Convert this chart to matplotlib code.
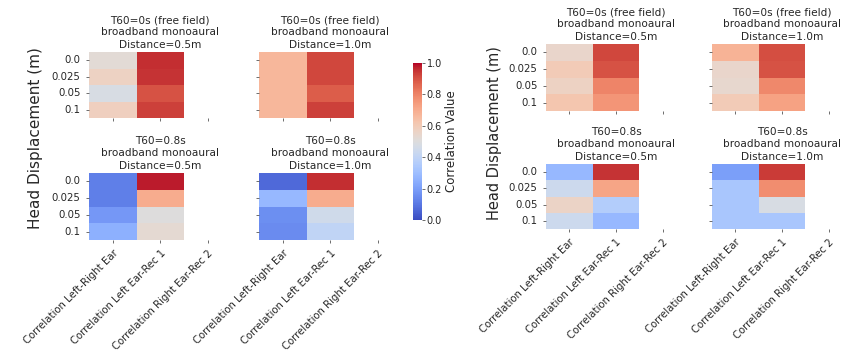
import numpy as np
import matplotlib
matplotlib.use('Agg')
import matplotlib.pyplot as plt
import seaborn as sns

displacements = ['0.0', '0.025', '0.05', '0.1']
metrics = ['Correlation Left-Right Ear', 'Correlation Left Ear-Rec 1', 'Correlation Right Ear-Rec 2']

# left figure (rows = displacement); Rec 2 column is empty
left_t0_05_lr = [0.52, 0.57, 0.48, 0.58]
left_t0_05_rec1 = [0.96, 0.95, 0.90, 0.93]
left_t0_10_lr = [0.67, 0.67, 0.67, 0.67]
left_t0_10_rec1 = [0.92, 0.92, 0.88, 0.93]
left_t8_05_lr = [0.12, 0.12, 0.18, 0.25]
left_t8_05_rec1 = [0.98, 0.70, 0.50, 0.53]
left_t8_10_lr = [0.07, 0.28, 0.16, 0.15]
left_t8_10_rec1 = [0.96, 0.70, 0.45, 0.40]

# right figure
right_t0_05_lr = [0.55, 0.60, 0.57, 0.62]
right_t0_05_rec1 = [0.92, 0.90, 0.80, 0.76]
right_t0_10_lr = [0.68, 0.55, 0.54, 0.60]
right_t0_10_rec1 = [0.91, 0.90, 0.79, 0.73]
right_t8_05_lr = [0.28, 0.44, 0.56, 0.44]
right_t8_05_rec1 = [0.95, 0.72, 0.36, 0.28]
right_t8_10_lr = [0.20, 0.33, 0.33, 0.33]
right_t8_10_rec1 = [0.94, 0.78, 0.48, 0.33]

titles = ['T60=0s (free field)\nbroadband monoaural\nDistance=0.5m',
          'T60=0s (free field)\nbroadband monoaural\nDistance=1.0m',
          'T60=0.8s\nbroadband monoaural\nDistance=0.5m',
          'T60=0.8s\nbroadband monoaural\nDistance=1.0m']

W, H = 843, 356
fig = plt.figure(figsize=(W / 100, H / 100), dpi=100)
txt = '#262626'


def box(x0, y_top, w, h):
    return [x0 / W, 1 - (y_top + h) / H, w / W, h / H]


def draw(rect, lr, rec1, title, show_y, show_x):
    ax = fig.add_axes(rect)
    data = np.column_stack([lr, rec1, [np.nan] * 4])
    sns.heatmap(data, ax=ax, cmap='coolwarm', vmin=0, vmax=1, cbar=False,
                xticklabels=metrics, yticklabels=displacements)
    ax.set_title(title, fontsize=7.6, color=txt, pad=3, linespacing=1.3)
    ax.tick_params(axis='both', labelsize=7.3, colors='#555555', length=2.5, width=0.6,
                   labelcolor=txt)
    ax.set_yticklabels(displacements, rotation=0)
    if not show_y:
        ax.set_yticklabels([])
    if show_x:
        ax.set_xticklabels(metrics, rotation=45, ha='right', rotation_mode='anchor')
    else:
        ax.set_xticklabels([])
    return ax


# left figure
draw(box(89, 52, 142.5, 66), left_t0_05_lr, left_t0_05_rec1, titles[0], True, False)
draw(box(259, 52, 142.5, 66), left_t0_10_lr, left_t0_10_rec1, titles[1], False, False)
draw(box(89, 173, 142.5, 67), left_t8_05_lr, left_t8_05_rec1, titles[2], True, True)
draw(box(259, 173, 142.5, 67), left_t8_10_lr, left_t8_10_rec1, titles[3], False, True)

# right figure
draw(box(546, 44, 140, 67), right_t0_05_lr, right_t0_05_rec1, titles[0], True, False)
draw(box(712, 44, 140, 67), right_t0_10_lr, right_t0_10_rec1, titles[1], False, False)
draw(box(546, 164, 140, 65), right_t8_05_lr, right_t8_05_rec1, titles[2], True, True)
draw(box(712, 164, 140, 65), right_t8_10_lr, right_t8_10_rec1, titles[3], False, True)

# shared colorbar of left figure
cax = fig.add_axes(box(413, 63, 9, 157))
sm = plt.cm.ScalarMappable(cmap='coolwarm', norm=plt.Normalize(0, 1))
cb = fig.colorbar(sm, cax=cax)
cb.outline.set_visible(False)
cb.set_ticks([0, 0.2, 0.4, 0.6, 0.8, 1.0])
cax.tick_params(labelsize=7, colors='#555555', labelcolor=txt, length=2.5, width=0.6, pad=1)
cb.set_label('Correlation Value', fontsize=8.5, color=txt, labelpad=2)

fig.text(36 / W, 1 - 138 / H, 'Head Displacement (m)', rotation=90, fontsize=11,
         color=txt, ha='center', va='center')
fig.text(495 / W, 1 - 133 / H, 'Head Displacement (m)', rotation=90, fontsize=10.5,
         color=txt, ha='center', va='center')

fig.savefig('out.png', dpi=100)
